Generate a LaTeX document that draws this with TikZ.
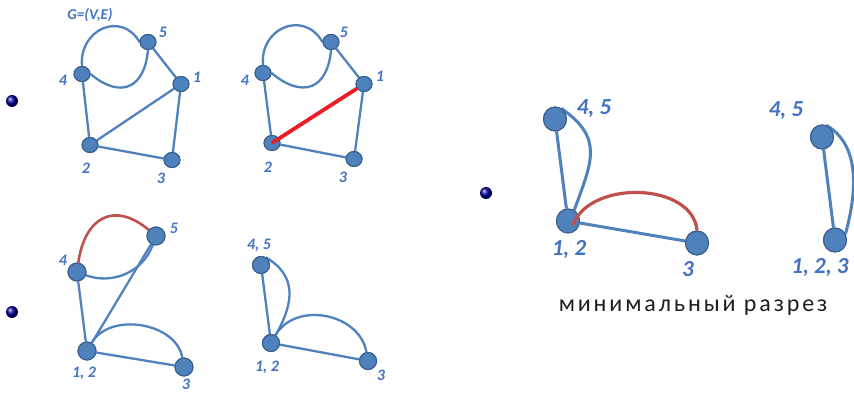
\documentclass[tikz,border=0pt]{standalone}
\usepackage{fontspec}
\setmainfont{Carlito}
\newfontfamily\cutfont[LetterSpace=12]{Carlito}
\usetikzlibrary{shapes.geometric}
\definecolor{nodefill}{RGB}{79,129,189}
\definecolor{nodeline}{RGB}{56,93,138}
\definecolor{edgeblue}{RGB}{79,129,189}
\definecolor{lblue}{RGB}{68,114,196}
\definecolor{cutred}{RGB}{192,80,77}
\definecolor{brightred}{RGB}{237,28,36}
\definecolor{txtdark}{RGB}{30,30,30}
\begin{document}
\begin{tikzpicture}[x=1pt,y=1pt,
 vtx/.style={ellipse,fill=nodefill,draw=nodeline,line width=1pt,inner sep=0pt,minimum width=16pt,minimum height=15pt},
 midvtx/.style={vtx,minimum width=18pt,minimum height=18pt},
 smvtx/.style={vtx,minimum width=17pt,minimum height=17pt},
 bigvtx/.style={vtx,minimum width=23pt,minimum height=24pt},
 edge/.style={draw=edgeblue,line width=2.3pt},
 bigedge/.style={draw=edgeblue,line width=3pt},
 lbl/.style={text=lblue,font=\fontsize{16}{16}\selectfont\bfseries\itshape,inner sep=0pt},
 biglbl/.style={text=lblue,font=\fontsize{23}{23}\selectfont\bfseries\itshape,inner sep=0pt},
 bulletball/.style={circle,inner sep=0pt,minimum size=12pt,ball color=blue!60!black}
]
\useasboundingbox (0,0) rectangle (854,394);

% ---------- bullets ----------
\node[bulletball] (b1) at (12,293) {};
\node[bulletball] (b2) at (12,82) {};
\node[bulletball] (b3) at (486,201) {};

% ---------- graph 1 ----------
\node[vtx] (n5) at (148,352) {};
\node[vtx] (n4) at (82,320) {};
\node[vtx] (n1) at (181,310) {};
\node[vtx] (n2) at (90,249) {};
\node[vtx] (n3) at (172,234) {};
\path[edge] (n4.north) to[out=95,in=120,looseness=1.5] (n5.west);
\path[edge] (n5.south) to[out=-95,in=-40,looseness=1.6] (n4.east);
\path[edge] (n5) -- (n1);
\path[edge] (n4) -- (n2);
\path[edge] (n2) -- (n1);
\path[edge] (n2) -- (n3);
\path[edge] (n3) -- (n1);
\node[vtx] at (n5) {};
\node[vtx] at (n4) {};
\node[vtx] at (n1) {};
\node[vtx] at (n2) {};
\node[vtx] at (n3) {};
\node[lbl,font=\fontsize{15}{15}\selectfont\bfseries\itshape] (g) at (90,379) {G=(V,E)};
\node[lbl] (l5) at (163,362) {5};
\node[lbl] (l4) at (63,314) {4};
\node[lbl] (l1) at (197,317) {1};
\node[lbl] (l2) at (86,226) {2};
\node[lbl] (l3) at (161,216) {3};

% ---------- graph 2 ----------
\node[vtx] (m5) at (331,352) {};
\node[vtx] (m4) at (263,321) {};
\node[vtx] (m1) at (364,310) {};
\node[vtx] (m2) at (272,251) {};
\node[vtx] (m3) at (354,235) {};
\path[edge] (m4.north) to[out=95,in=120,looseness=1.5] (m5.west);
\path[edge] (m5.south) to[out=-95,in=-40,looseness=1.6] (m4.east);
\path[edge] (m5) -- (m1);
\path[edge] (m4) -- (m2);
\path[edge] (m2) -- (m3);
\path[edge] (m3) -- (m1);
\node[vtx] at (m5) {};
\node[vtx] at (m4) {};
\node[vtx] at (m1) {};
\node[vtx] at (m2) {};
\node[vtx] at (m3) {};
\draw[brightred,line width=3.8pt] (m2.center) -- (m1);
\node[lbl] (k5) at (344,362) {5};
\node[lbl] (k4) at (245,314) {4};
\node[lbl] (k1) at (380,318) {1};
\node[lbl] (k2) at (268,227) {2};
\node[lbl] (k3) at (343,217) {3};

% ---------- graph 3 ----------
\node[midvtx] (p5) at (156,158) {};
\node[midvtx] (p4) at (77,122) {};
\node[midvtx] (p12) at (87,43) {};
\node[midvtx] (p3) at (184,27) {};
\path[draw=cutred,line width=2.6pt] (p4) to[out=82,in=140,looseness=1.5] (p5);
\path[edge] (p4) to[out=-20,in=-110,looseness=1] (p5);
\path[edge] (p4) -- (p12);
\path[edge] (p5) -- (p12);
\path[edge] (p12) -- (p3);
\path[edge] (p12) to[out=60,in=100,looseness=1] (p3);
\node[midvtx] at (p5) {};
\node[midvtx] at (p4) {};
\node[midvtx] at (p12) {};
\node[midvtx] at (p3) {};
\node[lbl] (h5) at (174,166) {5};
\node[lbl] (h4) at (63,134) {4};
\node[lbl] (h12) at (84,21) {1, 2};
\node[lbl] (h3) at (186,10) {3};

% ---------- graph 4 ----------
\node[smvtx] (q45) at (261,129) {};
\node[smvtx] (q12) at (271,51) {};
\node[smvtx] (q3) at (368,33) {};
\path[edge] (q45) -- (q12);
\path[edge] (q45.60) to[out=-30,in=60,looseness=1.2] (q12.60);
\path[edge] (q12) -- (q3);
\path[edge] (q12) to[out=60,in=100,looseness=1.1] (q3);
\node[smvtx] at (q45) {};
\node[smvtx] at (q12) {};
\node[smvtx] at (q3) {};
\node[lbl] (j45) at (259,149) {4, 5};
\node[lbl] (j12) at (267,27) {1, 2};
\node[lbl] (j3) at (381,19) {3};

% ---------- graph 5 ----------
\node[bigvtx] (r45) at (555,275) {};
\node[bigvtx] (r12) at (568,173) {};
\node[bigvtx] (r3) at (697,151) {};
\path[bigedge] (r45) -- (r12);
\path[bigedge] (r45.60) to[out=-35,in=70,looseness=1.3] (r12.60);
\path[bigedge] (r12) -- (r3);
\node[bigvtx] at (r45) {};
\node[bigvtx] at (r12) {};
\node[bigvtx] at (r3) {};
\path[draw=cutred,line width=3.2pt] (r12.center) ++(5,-4) to[out=70,in=95,looseness=1] (r3.north);
\node[biglbl] (t45) at (594,285) {4, 5};
\node[biglbl] (t12) at (569,144) {1, 2};
\node[biglbl] (t3) at (688,125) {3};

% ---------- graph 6 ----------
\node[bigvtx] (s45) at (822,257) {};
\node[bigvtx] (s123) at (835,154) {};
\path[bigedge] (s45) -- (s123);
\path[bigedge] (s45.70) to[out=-30,in=75,looseness=0.95] (s123.30);
\node[bigvtx] at (s45) {};
\node[bigvtx] at (s123) {};
\node[biglbl] (u45) at (786,283) {4, 5};
\node[biglbl] (u123) at (820,126) {1, 2, 3};

% ---------- caption ----------
\node[text=txtdark,font=\cutfont\fontsize{24}{24}\selectfont,inner sep=0pt] (cap) at (693,89) {минимальный разрез};
\end{tikzpicture}
\end{document}
